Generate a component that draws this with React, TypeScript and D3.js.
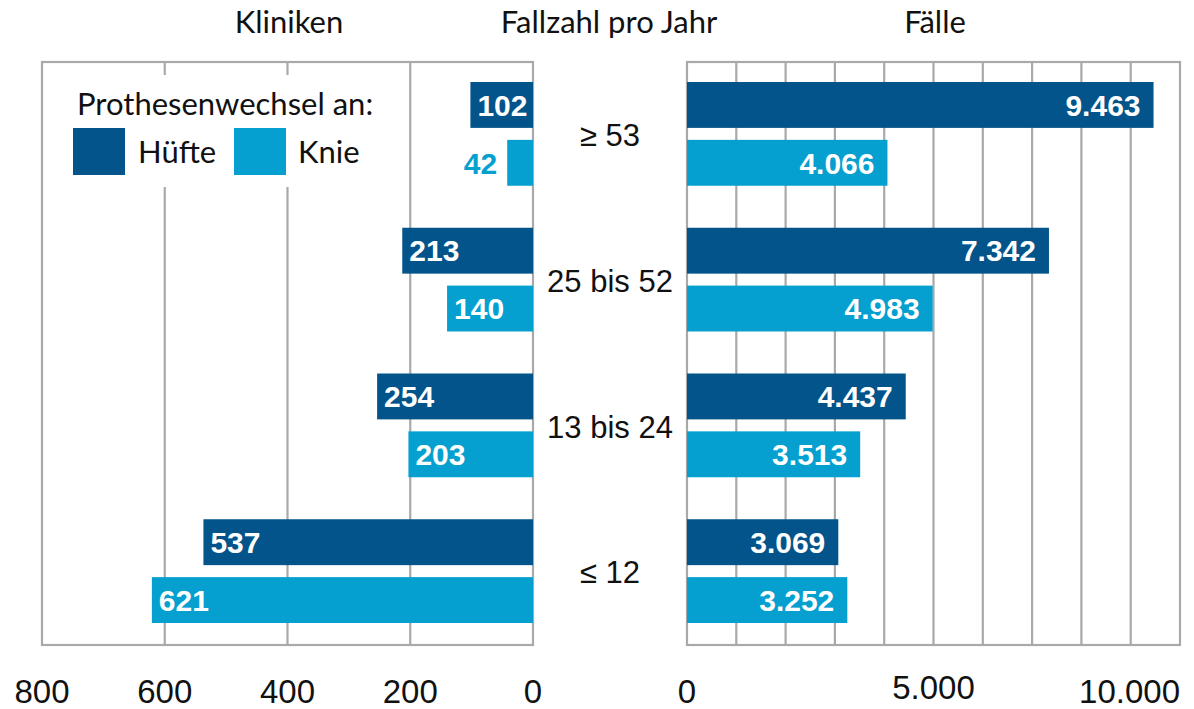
import React from 'react';
import * as d3 from 'd3';

const categories = ['≥ 53', '25 bis 52', '13 bis 24', '≤ 12'];
const seriesNames = ['Hüfte', 'Knie'];
const klinikenHuefte = [102, 213, 254, 537];
const klinikenKnie = [42, 140, 203, 621];
const faelleHuefte = [9463, 7342, 4437, 3069];
const faelleKnie = [4066, 4983, 3513, 3252];
const klinikenTicks = [800, 600, 400, 200, 0];
const faelleTicks = [0, 5000, 10000];

const DARK = '#03548a';
const LIGHT = '#06a0d0';
const GRID = '#a9a9a9';
const TITLE_FONT = 'Lato, "Noto Sans", sans-serif';
const NUM_FONT = '"Liberation Sans", Arial, sans-serif';

const de = d3.formatLocale({ decimal: ',', thousands: '.', grouping: [3], currency: ['', ' €'] });
const fmt = de.format(',d');

const top = 62;
const bottom = 645;

const App = () => {
  const xLeft = d3.scaleLinear().domain([0, 800]).range([533, 42]);
  const xRight = d3.scaleLinear().domain([0, 10000]).range([687, 1180]);
  const y = d3.scaleBand().domain(categories).range([top, bottom]).padding(0);
  const inner = d3.scaleBand().domain(seriesNames)
    .range([20, y.bandwidth() - 22])
    .paddingInner(12 / 58)
    .paddingOuter(0);
  const colors = [DARK, LIGHT];

  const leftData = [klinikenHuefte, klinikenKnie];
  const rightData = [faelleHuefte, faelleKnie];

  const leftGrid = d3.range(200, 800, 200);
  const rightGrid = d3.range(1000, 10000, 1000);

  return (
    <svg width={1194} height={709} style={{ position: 'absolute', left: 0, top: 0, background: '#fff' }}>
      {/* titles */}
      <g fontFamily={TITLE_FONT} fontSize={31} fill="#111" textAnchor="middle">
        <text x={289} y={33}>Kliniken</text>
        <text x={609} y={33}>Fallzahl pro Jahr</text>
        <text x={935} y={33}>Fälle</text>
      </g>

      {/* grids + frames */}
      <g stroke={GRID} strokeWidth={2.2} fill="none">
        {leftGrid.map((v) => (
          <line key={v} x1={xLeft(v)} x2={xLeft(v)} y1={top} y2={bottom} />
        ))}
        <rect x={xLeft(800)} y={top} width={xLeft(0) - xLeft(800)} height={bottom - top} />
        {rightGrid.map((v) => (
          <line key={v} x1={xRight(v)} x2={xRight(v)} y1={top} y2={bottom} />
        ))}
        <rect x={xRight(0)} y={top} width={xRight(10000) - xRight(0)} height={bottom - top} />
      </g>

      {/* legend */}
      <rect x={xLeft(800) + 2} y={75} width={350} height={112} fill="#fff" />
      <g fontFamily={TITLE_FONT} fontSize={31} fill="#111">
        <text x={77} y={115}>Prothesenwechsel an:</text>
        <rect x={73} y={128} width={52} height={47} fill={DARK} />
        <text x={138} y={163}>Hüfte</text>
        <rect x={234} y={128} width={52} height={47} fill={LIGHT} />
        <text x={298} y={163}>Knie</text>
      </g>

      {/* bars */}
      {categories.map((c, i) => (
        <g key={c} transform={`translate(0,${y(c)})`}>
          {seriesNames.map((s, j) => {
            const v = leftData[j][i];
            const w = rightData[j][i];
            const by = inner(s) as number;
            const bh = inner.bandwidth();
            const x0 = xLeft(v);
            const barW = xLeft(0) - x0;
            const inside = barW > 50;
            return (
              <g key={s}>
                <rect x={x0} y={by} width={barW} height={bh} fill={colors[j]} />
                <text
                  x={inside ? x0 + 7 : x0 - 10}
                  y={by + bh / 2}
                  dy="0.36em"
                  textAnchor={inside ? 'start' : 'end'}
                  fill={inside ? '#fff' : colors[j]}
                  fontFamily={NUM_FONT}
                  fontWeight="bold"
                  fontSize={30}
                >
                  {fmt(v)}
                </text>
                <rect x={xRight(0)} y={by} width={xRight(w) - xRight(0)} height={bh} fill={colors[j]} />
                <text
                  x={xRight(w) - 13}
                  y={by + bh / 2}
                  dy="0.36em"
                  textAnchor="end"
                  fill="#fff"
                  fontFamily={NUM_FONT}
                  fontWeight="bold"
                  fontSize={30}
                >
                  {fmt(w)}
                </text>
              </g>
            );
          })}
          <text
            x={610}
            y={y.bandwidth() / 2}
            dy="0.36em"
            textAnchor="middle"
            fontFamily={NUM_FONT}
            fontSize={31}
            fill="#111"
          >
            {c}
          </text>
        </g>
      ))}

      {/* bottom tick labels */}
      <g fontFamily={NUM_FONT} fontSize={33} fill="#111">
        {klinikenTicks.map((t) => (
          <text key={t} x={xLeft(t)} y={703} textAnchor="middle">{fmt(t)}</text>
        ))}
        {faelleTicks.map((t, i) => (
          <text
            key={t}
            x={xRight(t)}
            y={i === 1 ? 699 : 703}
            textAnchor={i === faelleTicks.length - 1 ? 'end' : 'middle'}
          >
            {fmt(t)}
          </text>
        ))}
      </g>
    </svg>
  );
};

export default App;
